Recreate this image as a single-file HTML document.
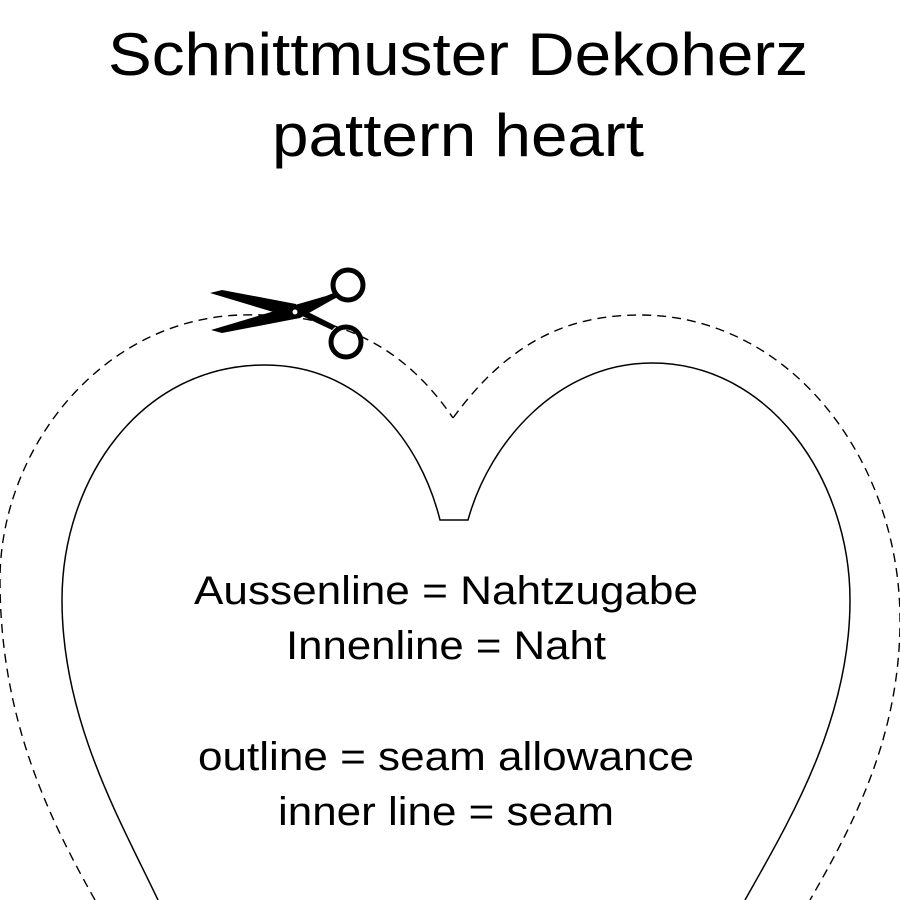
<!DOCTYPE html>
<html><head><meta charset="utf-8"><style>html,body{margin:0;padding:0;background:#fff;}svg{display:block}</style></head>
<body>
<svg width="900" height="900" viewBox="0 0 900 900" xmlns="http://www.w3.org/2000/svg">
<rect width="900" height="900" fill="#fff"/>
<g font-family="Liberation Sans, Arial, sans-serif" fill="#000" text-anchor="middle">
<text x="458" y="75" font-size="60" textLength="700" lengthAdjust="spacingAndGlyphs">Schnittmuster Dekoherz</text>
<text x="458" y="156" font-size="60" textLength="372" lengthAdjust="spacingAndGlyphs">pattern heart</text>
<text x="446" y="604" font-size="40" textLength="504" lengthAdjust="spacingAndGlyphs">Aussenline = Nahtzugabe</text>
<text x="446" y="659" font-size="40" textLength="320" lengthAdjust="spacingAndGlyphs">Innenline = Naht</text>
<text x="446" y="770" font-size="40" textLength="496" lengthAdjust="spacingAndGlyphs">outline = seam allowance</text>
<text x="446" y="825" font-size="40" textLength="336" lengthAdjust="spacingAndGlyphs">inner line = seam</text>
</g>
<g fill="none" stroke="#000" stroke-width="1.5">
<path d="M158,900 C120,820 62,720 62,600 C62,480 140,365 265,365 C360,365 420,440 440,520 L468,520 C490,440 560,363 652,363 C770,363 850,480 850,600 C850,720 790,820 745,900"/>
</g>
<g fill="none" stroke="#000" stroke-width="1.4" stroke-dasharray="9,6">
<path d="M95,900 C50,820 0,720 0,580 C0,450 100,320 240,315 C330,312 400,340 453,418"/>
<path d="M453,418 C510,340 570,315 640,315 C790,315 900,460 900,620 C900,740 850,830 810,900"/>
</g>
<g>
<path d="M210,293 L222,290 L296,304 L298,314 L280,314 Z" fill="#000"/>
<path d="M211,330 L222,333 L300,318 L332,300 L338,297 L336,292 L326,296 L288,307 Z" fill="#000"/>
<path d="M300,315 L332,330 L336,326 L304,310 Z" fill="#000"/>
<circle cx="348" cy="285" r="15" fill="none" stroke="#000" stroke-width="5"/>
<circle cx="346" cy="342" r="15" fill="none" stroke="#000" stroke-width="5"/>
<circle cx="295" cy="312" r="2.5" fill="#fff"/>
</g>
</svg>
</body></html>
